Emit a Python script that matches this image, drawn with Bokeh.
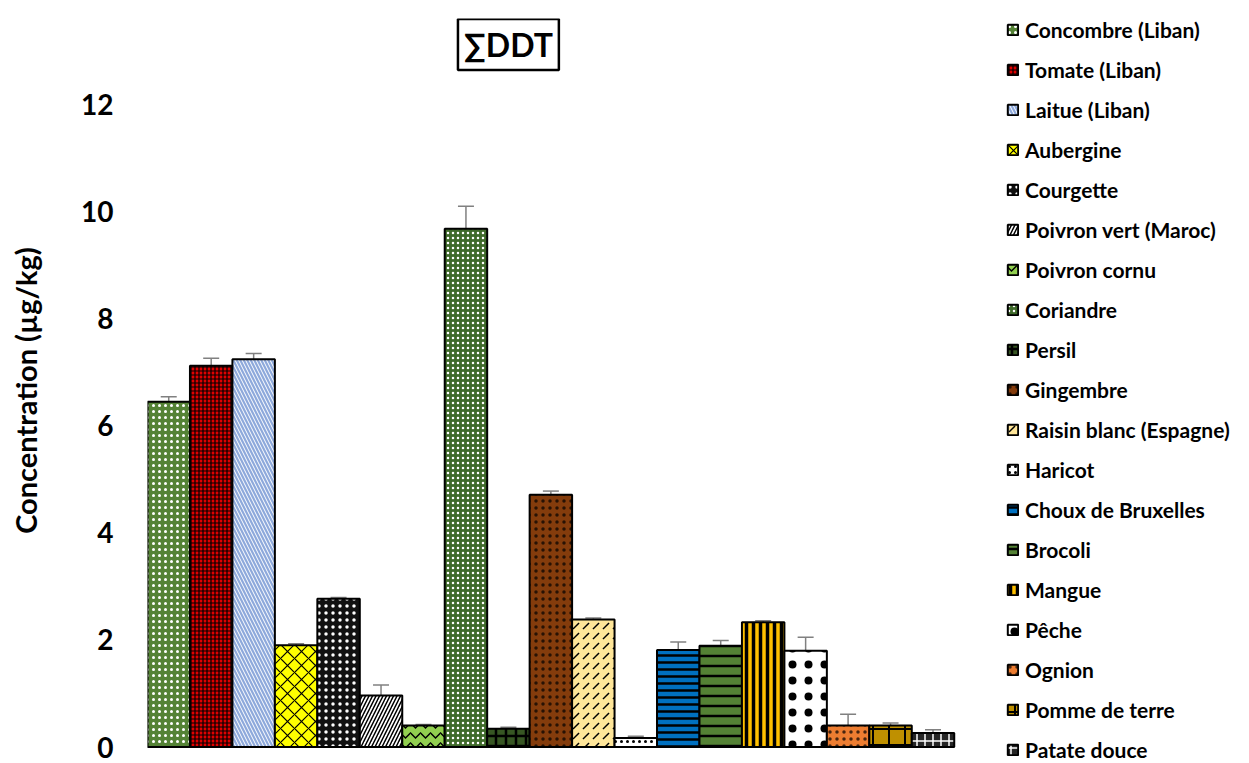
from bokeh.plotting import figure
from bokeh.models import (Range1d, FixedTicker, Legend, LegendItem, Whisker, TeeHead,
                          ColumnDataSource, Label)
from bokeh.embed import file_html
from bokeh.resources import INLINE

categories = ["Concombre (Liban)", "Tomate (Liban)", "Laitue (Liban)", "Aubergine", "Courgette",
              "Poivron vert (Maroc)", "Poivron cornu", "Coriandre", "Persil", "Gingembre",
              "Raisin blanc (Espagne)", "Haricot", "Choux de Bruxelles", "Brocoli", "Mangue",
              "Pêche", "Ognion", "Pomme de terre", "Patate douce"]
values = [6.45, 7.12, 7.24, 1.90, 2.77, 0.96, 0.40, 9.68, 0.34, 4.71, 2.38, 0.17,
          1.81, 1.89, 2.33, 1.80, 0.40, 0.40, 0.26]
errors = [0.09, 0.14, 0.11, 0.03, 0.02, 0.20, 0.02, 0.42, 0.03, 0.07, 0.03, 0.03,
          0.15, 0.10, 0.03, 0.25, 0.21, 0.05, 0.06]
y_ticks = [0, 2, 4, 6, 8, 10, 12]

fill_colors = ["#548235", "#E00000", "#8EA9DB", "#FFFF00", "#111111", "#FFFFFF", "#92D050",
               "#3F6A2A", "#375623", "#843C0C", "#FFE699", "#FFFFFF", "#0070C0", "#548235",
               "#FFC000", "#FFFFFF", "#ED7D31", "#BF9000", "#262626"]
hatch_patterns = [".", "+", "\\", "x", ".", "/", "v", ".", "+", ".", ",", ".", "-", "-",
                  "|", ".", ".", "+", "+"]
hatch_colors = ["#FFFFFF", "#000000", "#FFFFFF", "#000000", "#FFFFFF", "#000000", "#000000",
                "#FFFFFF", "#000000", "#000000", "#000000", "#000000", "#000000", "#000000",
                "#000000", "#000000", "#000000", "#000000", "#FFFFFF"]
hatch_scales = [6, 4, 7, 14, 7, 7, 10, 5, 10, 7, 10, 6, 7, 10, 7, 16, 7, 16, 8]
hatch_weights = [1.5, 1.2, 1.0, 1.2, 1.5, 1.5, 1.5, 1.5, 2.5, 0.8, 1.5, 3, 2.5, 2.5, 3.5, 8, 1.0, 2, 1.5]
hatch_alphas = [1, 1, 1, 1, 1, 1, 1, 1, 1, 0.7, 1, 1, 1, 1, 1, 1, 0.7, 1, 1]

TITLE_X = 8
PX_PER_UNIT = 53.54

p = figure(output_backend="svg", toolbar_location=None,
           frame_width=1093, frame_height=744,
           min_border_left=147, min_border_right=2, min_border_top=18, min_border_bottom=1,
           x_range=Range1d(-0.5, -0.5 + 1093 / 42.46),
           y_range=Range1d(-15.5 / PX_PER_UNIT, 728.5 / PX_PER_UNIT))
p.outline_line_color = None
p.xgrid.grid_line_color = None
p.ygrid.grid_line_color = None
p.background_fill_color = "white"
p.border_fill_color = "white"

p.yaxis.ticker = FixedTicker(ticks=y_ticks)
p.yaxis.axis_line_color = None
p.yaxis.major_tick_line_color = None
p.yaxis.minor_tick_line_color = None
p.yaxis.major_label_text_font = "Lato"
p.yaxis.major_label_text_font_style = "bold"
p.yaxis.major_label_text_font_size = "28px"
p.yaxis.major_label_text_color = "black"
p.yaxis.major_label_standoff = 28
p.yaxis.axis_label = "Concentration (µg/kg)"
p.yaxis.axis_label_text_font = "Lato"
p.yaxis.axis_label_text_font_style = "bold"
p.yaxis.axis_label_text_font_size = "29px"
p.yaxis.axis_label_text_color = "black"
p.yaxis.axis_label_standoff = 35
p.xaxis.visible = False

# baseline of the bars
n = len(categories)
p.segment(x0=[-0.5], y0=[0], x1=[n - 0.5], y1=[0], line_color="#808080", line_width=2)

items = []
for i, cat in enumerate(categories):
    r = p.vbar(x=[i], top=[values[i]], width=1.0, bottom=0,
               fill_color=fill_colors[i], line_color="black", line_width=2,
               hatch_pattern=hatch_patterns[i], hatch_color=hatch_colors[i],
               hatch_scale=hatch_scales[i], hatch_weight=hatch_weights[i],
               hatch_alpha=hatch_alphas[i])
    items.append(LegendItem(label=cat, renderers=[r]))

src = ColumnDataSource(data=dict(x=list(range(n)), top=values,
                                 upper=[v + e for v, e in zip(values, errors)]))
w = Whisker(source=src, base="x", upper="upper", lower="top",
            upper_head=TeeHead(size=16, line_color="#808080", line_width=1.5),
            lower_head=None, line_color="#808080", line_width=1.5)
p.add_layout(w)

legend = Legend(items=items, location=(859, 0), orientation="vertical",
                label_text_font="Lato", label_text_font_style="bold",
                label_text_font_size="21px", label_text_color="black",
                glyph_width=13, glyph_height=13, label_height=20, spacing=15,
                label_standoff=6, padding=0, margin=0,
                border_line_color=None, background_fill_alpha=0)
p.add_layout(legend)

title = Label(x=TITLE_X, y=(746.5 - 44) / PX_PER_UNIT, text="∑DDT", text_align="center",
              text_baseline="middle",
              text_font="Lato", text_font_style="bold", text_font_size="32px",
              text_color="black", border_line_color="black", border_line_width=2.5,
              background_fill_color="white", padding=6)
p.add_layout(title)

open("out.html", "w").write(file_html(p, INLINE))
